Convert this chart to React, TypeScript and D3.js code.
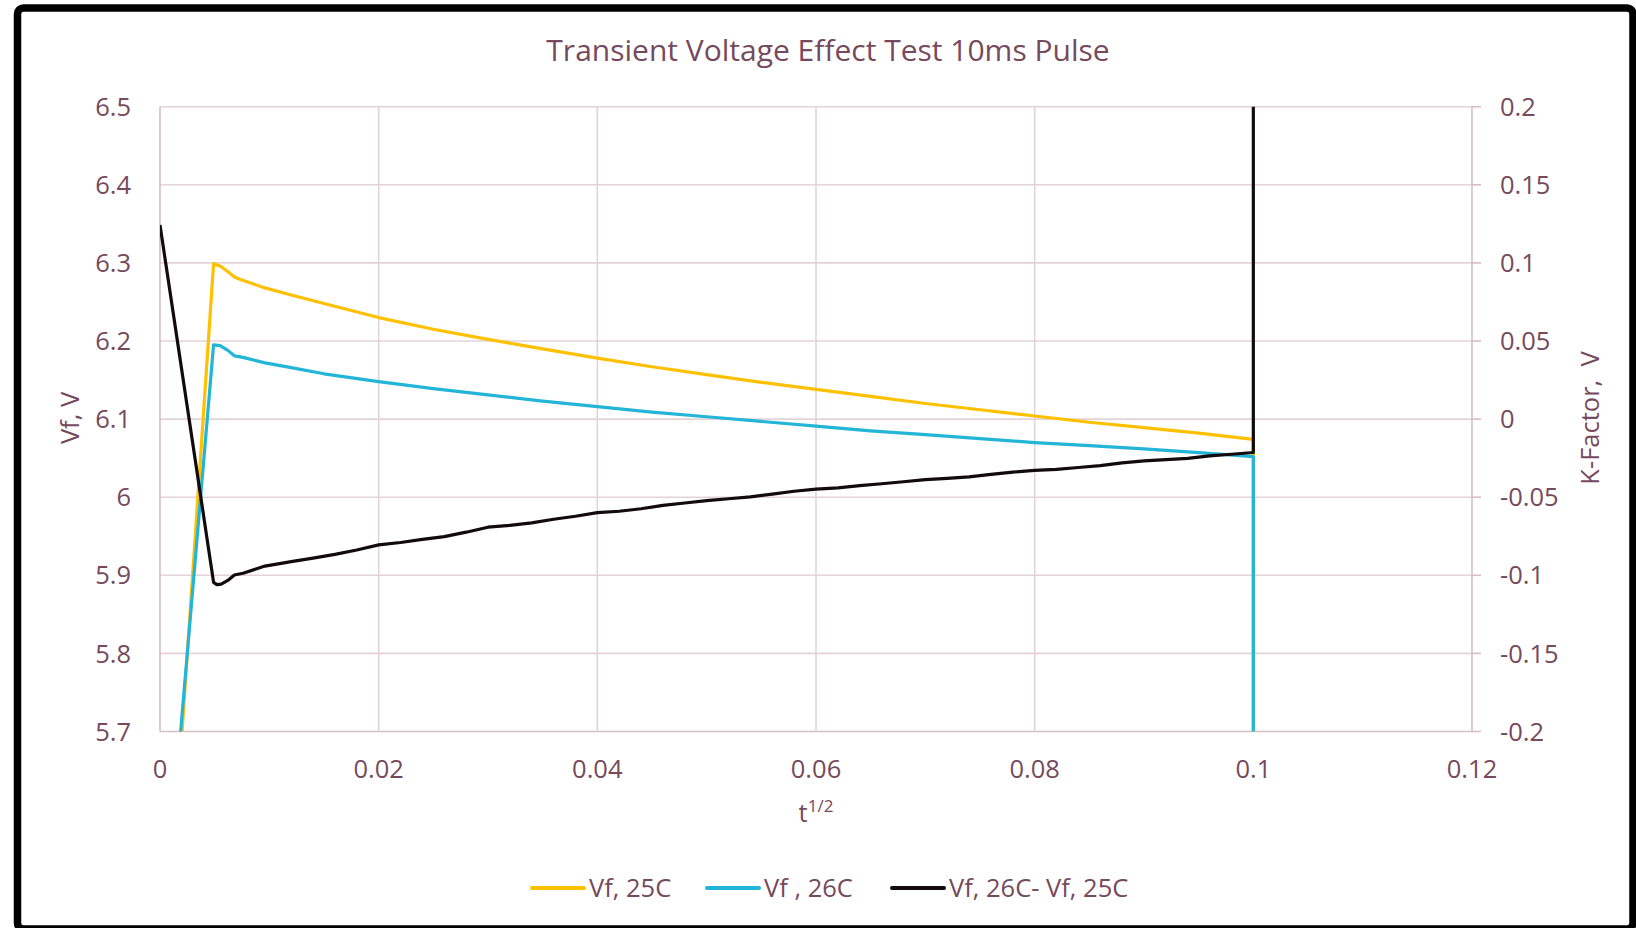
import React from 'react';
import * as d3 from 'd3';

// Axis ticks
const xTicks = [0, 0.02, 0.04, 0.06, 0.08, 0.1, 0.12];
const leftTicks = [5.7, 5.8, 5.9, 6, 6.1, 6.2, 6.3, 6.4, 6.5];
const rightTicks = [-0.2, -0.15, -0.1, -0.05, 0, 0.05, 0.1, 0.15, 0.2];

// Series: [t^(1/2), value]
const vf25: [number, number][] = [
  [0, 5.28], [0.0049, 6.299], [0.0055, 6.296], [0.0062, 6.289], [0.0068, 6.282],
  [0.0073, 6.279], [0.0096, 6.268], [0.012, 6.259], [0.015, 6.248], [0.02, 6.23],
  [0.025, 6.215], [0.03, 6.202], [0.035, 6.19], [0.04, 6.178], [0.045, 6.167],
  [0.05, 6.157], [0.055, 6.147], [0.06, 6.138], [0.065, 6.129], [0.07, 6.12],
  [0.075, 6.112], [0.08, 6.104], [0.085, 6.096], [0.09, 6.089], [0.095, 6.082],
  [0.1, 6.074], [0.1, 5.3],
];

const vf26: [number, number][] = [
  [0, 5.39], [0.0049, 6.195], [0.0055, 6.194], [0.0062, 6.188], [0.0068, 6.181],
  [0.0076, 6.179], [0.0096, 6.172], [0.012, 6.166], [0.015, 6.158], [0.02, 6.148],
  [0.025, 6.139], [0.03, 6.131], [0.035, 6.123], [0.04, 6.116], [0.045, 6.109],
  [0.05, 6.103], [0.055, 6.097], [0.06, 6.091], [0.065, 6.085], [0.07, 6.08],
  [0.075, 6.075], [0.08, 6.07], [0.085, 6.066], [0.09, 6.062], [0.095, 6.057],
  [0.1, 6.052], [0.1, 5.5],
];

const kFactor: [number, number][] = [
  [0, 0.1243], [0.0049, -0.1045], [0.0052, -0.106], [0.0056, -0.1056], [0.0062, -0.1033],
  [0.0068, -0.0998], [0.0076, -0.0987], [0.0096, -0.0941], [0.012, -0.0912], [0.014, -0.089],
  [0.016, -0.0866], [0.018, -0.0838], [0.02, -0.0805], [0.022, -0.079], [0.024, -0.077],
  [0.026, -0.0752], [0.028, -0.0724], [0.03, -0.0692], [0.032, -0.068], [0.034, -0.0664],
  [0.036, -0.0641], [0.038, -0.0622], [0.04, -0.0599], [0.042, -0.059], [0.044, -0.0574],
  [0.046, -0.0552], [0.048, -0.0537], [0.05, -0.0522], [0.052, -0.051], [0.054, -0.0498],
  [0.056, -0.048], [0.058, -0.0462], [0.06, -0.0448], [0.062, -0.044], [0.064, -0.0426],
  [0.066, -0.0414], [0.068, -0.0401], [0.07, -0.0388], [0.072, -0.038], [0.074, -0.037],
  [0.076, -0.0354], [0.078, -0.034], [0.08, -0.0328], [0.082, -0.0322], [0.084, -0.031],
  [0.086, -0.0298], [0.088, -0.028], [0.09, -0.0268], [0.092, -0.026], [0.094, -0.0252],
  [0.096, -0.0236], [0.098, -0.0225], [0.1, -0.0214], [0.1, 0.45],
];

const legendItems = [
  { label: 'Vf, 25C', color: '#FFC000' },
  { label: 'Vf , 26C', color: '#22B5D8' },
  { label: 'Vf, 26C- Vf, 25C', color: '#120A0C' },
];

const W = 1636;
const H = 928;
const P = { left: 160, right: 1472, top: 106.7, bottom: 731.5 };
const TEXT = '#764A5C';
const GRID = '#E3D3D9';
const AXIS = '#D5BEC6';
const FONT = '"Open Sans", sans-serif';

export default function App() {
  const x = d3.scaleLinear().domain([0, 0.12]).range([P.left, P.right]);
  const yL = d3.scaleLinear().domain([5.7, 6.5]).range([P.bottom, P.top]);
  const yR = d3.scaleLinear().domain([-0.2, 0.2]).range([P.bottom, P.top]);

  const lineL = d3.line<[number, number]>().x((d) => x(d[0])).y((d) => yL(d[1]));
  const lineR = d3.line<[number, number]>().x((d) => x(d[0])).y((d) => yR(d[1]));

  const legendX = [532, 707, 892];

  return (
    <div style={{ position: 'absolute', left: 0, top: 0 }}>
      <svg width={W} height={H} style={{ display: 'block', background: '#fff' }} fontFamily={FONT}>
        <defs>
          <clipPath id="plot-clip">
            <rect x={P.left} y={P.top} width={P.right - P.left} height={P.bottom - P.top} />
          </clipPath>
        </defs>

        {/* gridlines */}
        {leftTicks.map((v) => (
          <line key={'h' + v} x1={P.left} x2={P.right} y1={yL(v)} y2={yL(v)} stroke={v === 5.7 ? AXIS : GRID} strokeWidth={1.6} />
        ))}
        {xTicks.map((v) => (
          <line key={'v' + v} x1={x(v)} x2={x(v)} y1={P.top} y2={P.bottom} stroke={v === 0 || v === 0.12 ? AXIS : GRID} strokeWidth={1.6} />
        ))}
        {/* right axis tick marks */}
        {rightTicks.map((v) => (
          <line key={'rt' + v} x1={P.right} x2={P.right + 9} y1={yR(v)} y2={yR(v)} stroke={AXIS} strokeWidth={1.6} />
        ))}

        {/* left tick labels */}
        {leftTicks.map((v) => (
          <text key={'lt' + v} x={131} y={yL(v)} dy="0.36em" textAnchor="end" fontSize={25.5} fill={TEXT}>
            {String(v)}
          </text>
        ))}
        {/* right tick labels */}
        {rightTicks.map((v) => (
          <text key={'rl' + v} x={1500} y={yR(v)} dy="0.36em" textAnchor="start" fontSize={25.5} fill={TEXT}>
            {String(v)}
          </text>
        ))}
        {/* bottom tick labels */}
        {xTicks.map((v) => (
          <text key={'bl' + v} x={x(v)} y={769} dy="0.36em" textAnchor="middle" fontSize={25.5} fill={TEXT}>
            {String(v)}
          </text>
        ))}

        {/* series */}
        <g clipPath="url(#plot-clip)" fill="none" strokeLinejoin="round">
          <path d={lineL(vf25) ?? ''} stroke={legendItems[0].color} strokeWidth={3.2} />
          <path d={lineL(vf26) ?? ''} stroke={legendItems[1].color} strokeWidth={3.2} />
          <path d={lineR(kFactor) ?? ''} stroke={legendItems[2].color} strokeWidth={3.2} />
        </g>

        {/* title */}
        <text x={828} y={50} dy="0.36em" textAnchor="middle" fontSize={30} fill={TEXT}>
          Transient Voltage Effect Test 10ms Pulse
        </text>

        {/* axis titles */}
        <text x={816} y={822} textAnchor="middle" fontSize={25.5} fill={TEXT}>
          t<tspan fontSize={17} dy={-10}>1/2</tspan>
        </text>
        <text transform="translate(70,418) rotate(-90)" dy="0.36em" textAnchor="middle" fontSize={25.5} fill={TEXT}>
          Vf, V
        </text>
        <text transform="translate(1590,418) rotate(-90)" dy="0.36em" textAnchor="middle" fontSize={25.5} fill={TEXT} style={{ whiteSpace: 'pre' }}>
          {'K-Factor,  V'}
        </text>

        {/* legend */}
        {legendItems.map((it, i) => (
          <g key={it.label}>
            <line x1={legendX[i]} x2={legendX[i] + 52} y1={888} y2={888} stroke={it.color} strokeWidth={4} strokeLinecap="round" />
            <text x={legendX[i] + 57} y={888} dy="0.36em" fontSize={25.5} fill={TEXT}>
              {it.label}
            </text>
          </g>
        ))}

        {/* outer frame */}
        <rect x={17.5} y={8} width={1615.5} height={921} rx={6} fill="none" stroke="#000" strokeWidth={7.5} />
      </svg>
    </div>
  );
}
